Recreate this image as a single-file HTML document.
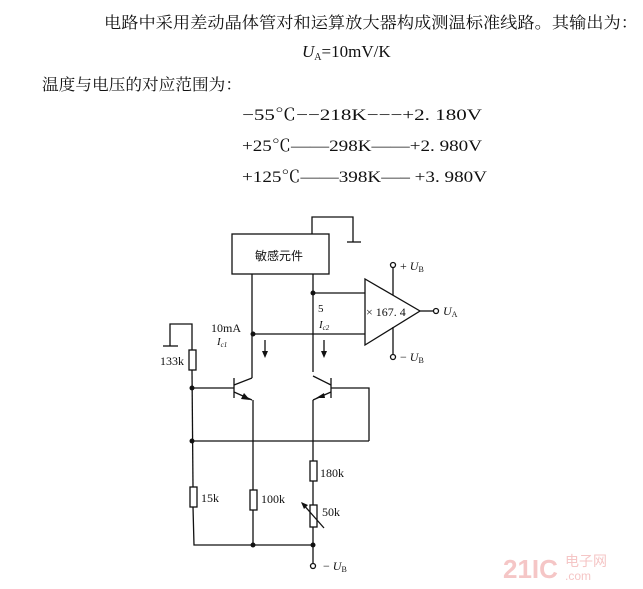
<!DOCTYPE html>
<html><head><meta charset="utf-8"><style>body{margin:0;background:#fff}svg{display:block}</style></head><body>
<svg width="643" height="589" viewBox="0 0 643 589" xmlns="http://www.w3.org/2000/svg" font-family="Liberation Serif, Noto Serif CJK SC, serif">
<g fill="#111">
<text x="104" y="28" font-size="16" textLength="534" lengthAdjust="spacingAndGlyphs" font-family="Noto Serif CJK SC, serif">电路中采用差动晶体管对和运算放大器构成测温标准线路。其输出为：</text>
<text x="302" y="57" font-size="17"><tspan font-style="italic">U</tspan><tspan font-size="10" dy="3">A</tspan><tspan dy="-3">=10mV/K</tspan></text>
<text x="42" y="90" font-size="16" textLength="200" lengthAdjust="spacingAndGlyphs" font-family="Noto Serif CJK SC, serif">温度与电压的对应范围为：</text>
<text x="242" y="120" font-size="16" textLength="240" lengthAdjust="spacingAndGlyphs">−55℃−−218K−−−+2. 180V</text>
<text x="242" y="151" font-size="16" textLength="240" lengthAdjust="spacingAndGlyphs">+25℃——298K——+2. 980V</text>
<text x="242" y="182" font-size="16" textLength="245" lengthAdjust="spacingAndGlyphs">+125℃——398K—– +3. 980V</text>
</g>
<g stroke="#111" stroke-width="1.3" fill="none">
<rect x="232" y="234" width="97" height="40"/>
<polyline points="312,234 312,217 353,217 353,242"/>
<line x1="347" y1="242" x2="361" y2="242"/>
<line x1="252" y1="274" x2="252" y2="378"/>
<line x1="313" y1="274" x2="313" y2="372"/>
<line x1="313" y1="293" x2="365" y2="293"/>
<line x1="253" y1="334" x2="365" y2="334"/>
<polygon points="365,279 365,345 420,311"/>
<line x1="420" y1="311" x2="433" y2="311"/>
<circle cx="436" cy="311" r="2.5"/>
<line x1="393" y1="268" x2="393" y2="295"/>
<circle cx="393" cy="265" r="2.5"/>
<line x1="393" y1="327" x2="393" y2="354"/>
<circle cx="393" cy="357" r="2.5"/>
<line x1="265" y1="340" x2="265" y2="355"/>
<line x1="324" y1="340" x2="324" y2="355"/>
<line x1="234" y1="378" x2="234" y2="398"/>
<line x1="192" y1="388" x2="234" y2="388"/>
<line x1="234" y1="385" x2="252" y2="378"/>
<line x1="234" y1="392" x2="252" y2="400"/>
<line x1="253" y1="400" x2="253" y2="490"/>
<line x1="331" y1="378" x2="331" y2="398"/>
<polyline points="331,388 369,388 369,441"/>
<line x1="331" y1="385" x2="313" y2="376"/>
<line x1="331" y1="392" x2="313" y2="400"/>
<line x1="313" y1="400" x2="313" y2="461"/>
<line x1="192" y1="441" x2="369" y2="441"/>
<polyline points="192,350 192,324 170,324 170,346"/>
<line x1="163" y1="346" x2="178" y2="346"/>
<rect x="189" y="350" width="7" height="20"/>
<line x1="192" y1="370" x2="193" y2="487"/>
<rect x="190" y="487" width="7" height="20"/>
<polyline points="193,507 194,545 313,545"/>
<rect x="250" y="490" width="7" height="20"/>
<line x1="253" y1="510" x2="253" y2="545"/>
<rect x="310" y="461" width="7" height="20"/>
<line x1="313" y1="481" x2="313" y2="505"/>
<rect x="310" y="505" width="7" height="22"/>
<line x1="313" y1="527" x2="313" y2="563"/>
<circle cx="313" cy="566" r="2.5"/>
<line x1="302" y1="503" x2="324" y2="528"/>
</g>
<g fill="#111">
<polygon points="265,358 262,351 268,351"/>
<polygon points="324,358 321,351 327,351"/>
<polygon points="250,400 244,393 241,399"/>
<polygon points="316,398 324,393 325,398"/>
<polygon points="301,502 308,505 304,509"/>
<circle cx="313" cy="293" r="2.5"/><circle cx="253" cy="334" r="2.5"/>
<circle cx="192" cy="388" r="2.5"/><circle cx="192" cy="441" r="2.5"/>
<circle cx="253" cy="545" r="2.5"/><circle cx="313" cy="545" r="2.5"/>
<text x="255" y="260" font-size="12" font-family="Noto Sans CJK SC, sans-serif">敏感元件</text>
<text x="400" y="270" font-size="12">+ <tspan font-style="italic">U</tspan><tspan font-size="8" dy="2">B</tspan></text>
<text x="400" y="361" font-size="12">− <tspan font-style="italic">U</tspan><tspan font-size="8" dy="2">B</tspan></text>
<text x="443" y="315" font-size="12"><tspan font-style="italic">U</tspan><tspan font-size="8" dy="2">A</tspan></text>
<text x="366" y="316" font-size="12">× 167. 4</text>
<text x="318" y="312" font-size="11">5</text>
<text x="319" y="328" font-size="11" font-style="italic">I<tspan font-size="7" dy="2">c2</tspan></text>
<text x="211" y="332" font-size="12">10mA</text>
<text x="217" y="345" font-size="11" font-style="italic">I<tspan font-size="7" dy="2">c1</tspan></text>
<text x="160" y="365" font-size="12">133k</text>
<text x="201" y="502" font-size="12">15k</text>
<text x="261" y="503" font-size="12">100k</text>
<text x="320" y="477" font-size="12">180k</text>
<text x="322" y="516" font-size="12">50k</text>
<text x="323" y="570" font-size="12">− <tspan font-style="italic">U</tspan><tspan font-size="8" dy="2">B</tspan></text>
</g>
<text x="503" y="578" font-size="26" font-weight="bold" fill="#f5c6c6" font-family="Liberation Sans, sans-serif">21IC</text>
<text x="565" y="566" font-size="14" fill="#f5c6c6" font-family="Noto Sans CJK SC, sans-serif">电子网</text>
<text x="565" y="580" font-size="12" fill="#f5c6c6" font-family="Liberation Sans, sans-serif">.com</text>
</svg>
</body></html>
